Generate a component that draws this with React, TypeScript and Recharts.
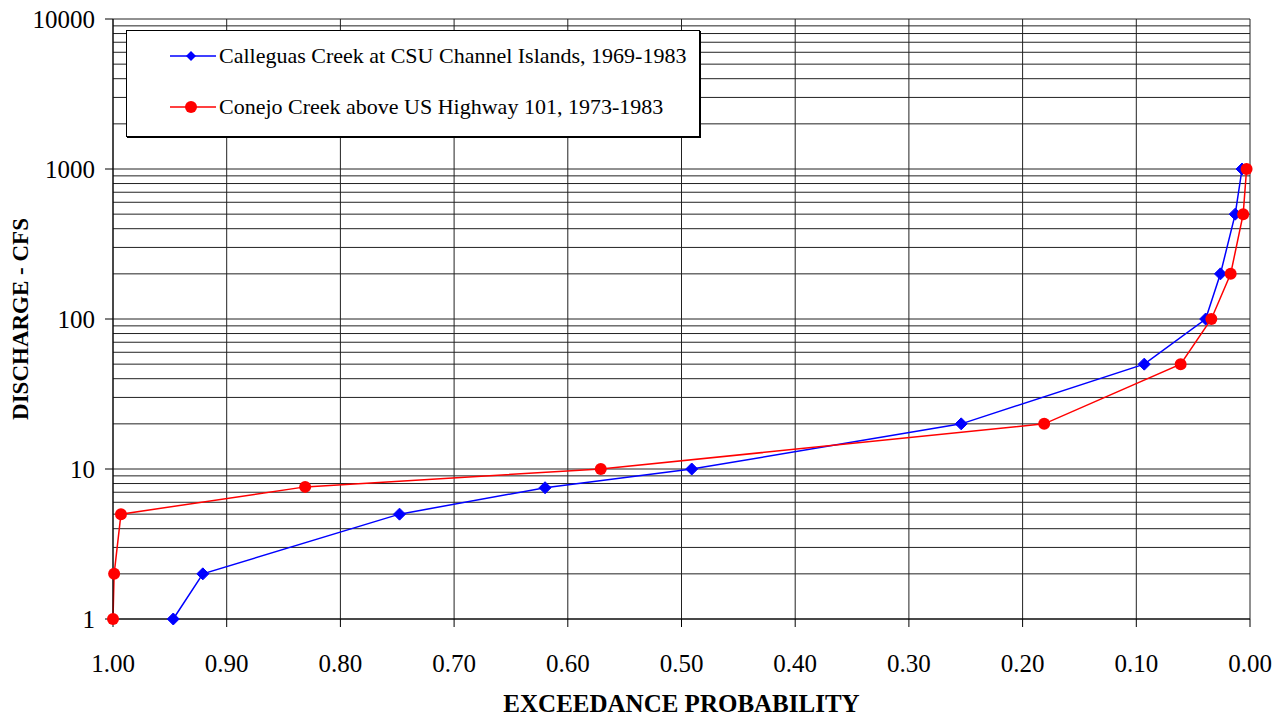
import React from 'react';
import { LineChart, Line, XAxis, YAxis, CartesianGrid, ReferenceLine, Legend } from 'recharts';

// Calleguas Creek at CSU Channel Islands, 1969-1983
const calleguasProb = [0.947, 0.921, 0.748, 0.62, 0.491, 0.254, 0.093, 0.039, 0.026, 0.013, 0.007];
const calleguasCfs = [1, 2, 5, 7.5, 10, 20, 50, 100, 200, 500, 1000];

// Conejo Creek above US Highway 101, 1973-1983
const conejoProb = [1.0, 0.999, 0.993, 0.831, 0.571, 0.181, 0.061, 0.034, 0.017, 0.006, 0.003];
const conejoCfs = [1, 2, 5, 7.6, 10, 20, 50, 100, 200, 500, 1000];

const probTicks = [0, 0.1, 0.2, 0.3, 0.4, 0.5, 0.6, 0.7, 0.8, 0.9, 1.0];
const cfsTicks = [1, 10, 100, 1000, 10000];
const cfsGrid = [
  1, 2, 3, 4, 5, 6, 7, 8, 9,
  10, 20, 30, 40, 50, 60, 70, 80, 90,
  100, 200, 300, 400, 500, 600, 700, 800, 900,
  1000, 2000, 3000, 4000, 5000, 6000, 7000, 8000, 9000,
  10000,
];

const seriesNames = [
  'Calleguas Creek at CSU Channel Islands, 1969-1983',
  'Conejo Creek above US Highway 101, 1973-1983',
];

const calleguas = calleguasProb.map((p, i) => ({ p, q: calleguasCfs[i] }));
const conejo = conejoProb.map((p, i) => ({ p, q: conejoCfs[i] }));

const FONT = 'Liberation Serif, Times New Roman, serif';
const BLUE = '#0000ff';
const RED = '#ff0000';

const Diamond = (props: any) => {
  const { cx, cy, index } = props;
  if (cx == null || cy == null) return null;
  const s = 6;
  return (
    <polygon
      key={`d-${index}`}
      points={`${cx},${cy - s} ${cx + s},${cy} ${cx},${cy + s} ${cx - s},${cy}`}
      fill={BLUE}
      stroke={BLUE}
    />
  );
};

const LegendBox = () => (
  <div
    style={{
      width: 572,
      height: 105,
      border: '1px solid #000',
      boxShadow: '1px 1px 0 #000',
      background: '#fff',
      fontFamily: FONT,
      fontSize: 22,
      position: 'relative',
    }}
  >
    {seriesNames.map((name, i) => (
      <div
        key={name}
        style={{
          position: 'absolute',
          left: 43,
          top: i === 0 ? 12 : 63,
          display: 'flex',
          alignItems: 'center',
          whiteSpace: 'nowrap',
        }}
      >
        <svg width={49} height={26}>
          <line x1={0} y1={13} x2={46} y2={13} stroke={i === 0 ? BLUE : RED} strokeWidth={1.5} />
          {i === 0 ? (
            <polygon points="21,8 26,13 21,18 16,13" fill={BLUE} />
          ) : (
            <circle cx={21} cy={13} r={6} fill={RED} />
          )}
        </svg>
        <span>{name}</span>
      </div>
    ))}
  </div>
);

export default function App() {
  return (
    <div style={{ position: 'absolute', left: 0, top: 0, background: '#fff' }}>
      <LineChart width={1288} height={717} margin={{ top: 19, right: 38, bottom: 0, left: 0 }}>
        <CartesianGrid horizontal={false} vertical={true} stroke="#222" />
        {cfsGrid.map((v) => (
          <ReferenceLine key={v} y={v} stroke="#222" strokeWidth={1} />
        ))}
        <XAxis
          type="number"
          dataKey="p"
          domain={[0, 1]}
          reversed
          ticks={probTicks}
          interval={0}
          tickFormatter={(v: number) => v.toFixed(2)}
          height={98}
          tickSize={8}
          tickMargin={27}
          stroke="#000"
          tick={{ fill: '#000', fontFamily: FONT, fontSize: 25 }}
          label={{
            value: 'EXCEEDANCE PROBABILITY',
            position: 'insideBottom',
            offset: 5,
            style: { fill: '#000', fontFamily: FONT, fontSize: 25, fontWeight: 'bold' },
          }}
        />
        <YAxis
          type="number"
          dataKey="q"
          scale="log"
          domain={[1, 10000]}
          ticks={cfsTicks}
          interval={0}
          width={113}
          tickSize={8}
          tickMargin={10}
          stroke="#000"
          tick={{ fill: '#000', fontFamily: FONT, fontSize: 25 }}
          label={{
            value: 'DISCHARGE - CFS',
            angle: -90,
            position: 'center',
            dx: -37,
            style: { fill: '#000', fontFamily: FONT, fontSize: 23, fontWeight: 'bold', textAnchor: 'middle' },
          }}
        />
        <Legend
          layout="vertical"
          align="center"
          verticalAlign="middle"
          wrapperStyle={{ left: 126, top: 30, width: 574, height: 107 }}
          content={() => <LegendBox />}
        />
        <Line
          data={calleguas}
          dataKey="q"
          name={seriesNames[0]}
          stroke={BLUE}
          strokeWidth={1.5}
          dot={Diamond}
          activeDot={false}
          isAnimationActive={false}
        />
        <Line
          data={conejo}
          dataKey="q"
          name={seriesNames[1]}
          stroke={RED}
          strokeWidth={1.5}
          dot={{ r: 6, fill: RED, stroke: RED, strokeWidth: 0 }}
          activeDot={false}
          isAnimationActive={false}
        />
      </LineChart>
    </div>
  );
}
